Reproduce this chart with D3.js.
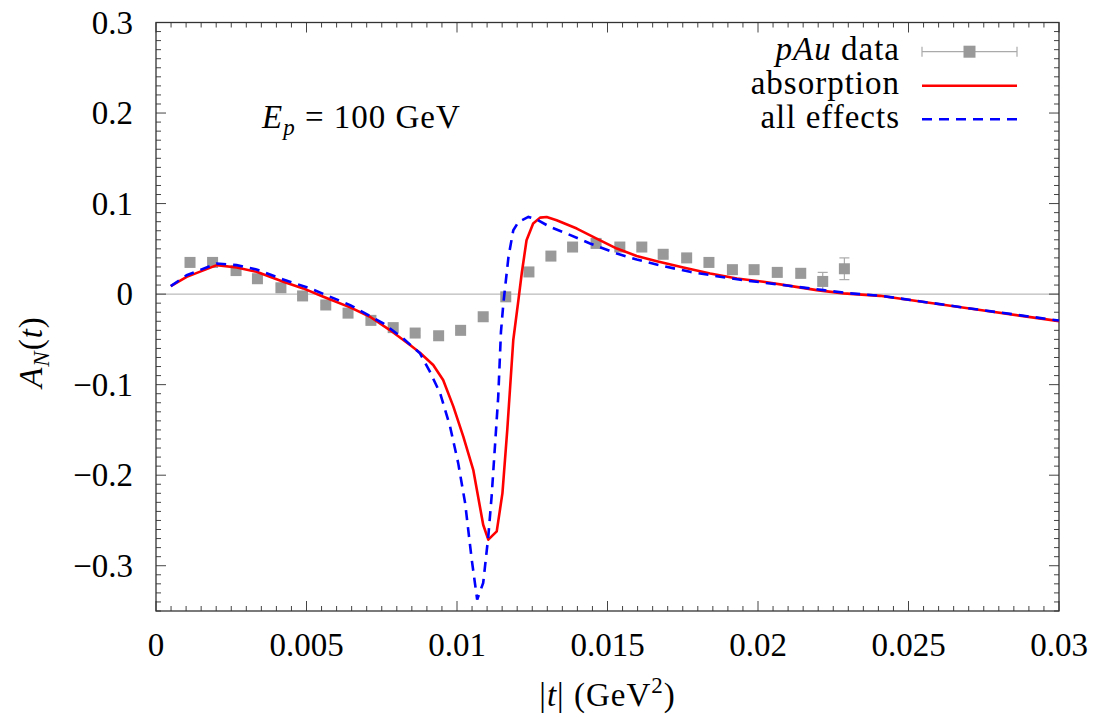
<!DOCTYPE html>
<html>
<head>
<meta charset="utf-8">
<script src="https://cdn.jsdelivr.net/npm/d3@7"></script>
<style>
  body { margin: 0; background: #fff; }
  svg { display: block; font-family: "Liberation Serif", "Times New Roman", serif; }
  .tick-label { font-size: 33px; fill: #000; }
  .word { font-size: 33px; letter-spacing: 1px; }
</style>
</head>
<body>
<div id="chart"></div>
<script>
// A_N(t) pour pAu à E_p = 100 GeV

// points expérimentaux pAu
const tData = [0.00113, 0.00188, 0.00266, 0.00337, 0.00415, 0.00487, 0.00564, 0.00638, 0.00714, 0.00788,
  0.00861, 0.00939, 0.01012, 0.01087, 0.01162, 0.01239, 0.01312, 0.01384, 0.01462, 0.01541,
  0.01614, 0.01685, 0.01763, 0.01837, 0.01915, 0.01987, 0.02064, 0.02142, 0.02215, 0.02287];
const aData = [0.035, 0.035, 0.026, 0.017, 0.007, -0.002, -0.012, -0.021, -0.029, -0.037,
  -0.043, -0.046, -0.040, -0.025, -0.003, 0.0245, 0.042, 0.052, 0.056, 0.052,
  0.052, 0.044, 0.040, 0.035, 0.027, 0.027, 0.024, 0.023, 0.014, 0.028];
const aErr = [0.003, 0.003, 0.003, 0.003, 0.003, 0.003, 0.003, 0.003, 0.003, 0.003,
  0.003, 0.003, 0.003, 0.003, 0.003, 0.003, 0.003, 0.003, 0.003, 0.003,
  0.003, 0.003, 0.003, 0.003, 0.004, 0.004, 0.004, 0.005, 0.010, 0.012];

// courbe "absorption"
const tAbs = [0.00049, 0.00102, 0.00202, 0.00268, 0.00334, 0.00423, 0.00489, 0.00556, 0.00645, 0.00711,
  0.00777, 0.00844, 0.00877, 0.00921, 0.00954, 0.00988, 0.01021, 0.01054, 0.01087, 0.01104,
  0.01132, 0.01151, 0.01167, 0.01187, 0.01204, 0.01215, 0.01231, 0.01253, 0.01276, 0.01298,
  0.01331, 0.01398, 0.01464, 0.01531, 0.01597, 0.01664, 0.01752, 0.01841, 0.01930, 0.02018,
  0.02106, 0.02195, 0.02284, 0.02405, 0.02738, 0.0300];
const aAbs = [0.0088, 0.019, 0.032, 0.0294, 0.0246, 0.0136, 0.0063, -0.0029, -0.0146, -0.0250,
  -0.0397, -0.0562, -0.0647, -0.0783, -0.0948, -0.1243, -0.1574, -0.1941, -0.2547, -0.2712,
  -0.2621, -0.2198, -0.150, -0.0507, -0.0066, 0.0228, 0.0595, 0.0779, 0.0845, 0.0852,
  0.0816, 0.0724, 0.0613, 0.0503, 0.0422, 0.0364, 0.0294, 0.0228, 0.0173, 0.0136,
  0.0091, 0.0044, 0.0008, -0.0019, -0.0176, -0.0298];

// courbe "all effects"
const tAll = [0.00049, 0.00102, 0.00202, 0.00268, 0.00334, 0.00423, 0.00512, 0.00645, 0.00755, 0.00821,
  0.00877, 0.00910, 0.00944, 0.00977, 0.01004, 0.01027, 0.01049, 0.01067, 0.01087, 0.01104,
  0.01115, 0.01126, 0.01137, 0.01146, 0.01154, 0.01171, 0.01187, 0.01204, 0.01237, 0.01265,
  0.01309, 0.01364, 0.01442, 0.01531, 0.01597, 0.01686, 0.01774, 0.01863, 0.01951, 0.02040,
  0.02128, 0.02217, 0.02306, 0.02405, 0.02738, 0.0300];
const aAll = [0.0088, 0.0209, 0.0338, 0.032, 0.0272, 0.0162, 0.0063, -0.0121, -0.0323, -0.0489,
  -0.0654, -0.0857, -0.1095, -0.1463, -0.1867, -0.2308, -0.2933, -0.3374, -0.319, -0.2676,
  -0.2235, -0.1684, -0.1132, -0.042, -0.0103, 0.0411, 0.0706, 0.0797, 0.0853, 0.0824,
  0.0742, 0.0669, 0.0559, 0.0449, 0.0382, 0.0309, 0.0246, 0.0198, 0.0154, 0.0118,
  0.0081, 0.0044, 0.0008, -0.0017, -0.0174, -0.0292];

const xTicks = [0, 0.005, 0.01, 0.015, 0.02, 0.025, 0.03];
const xTickLabels = ["0", "0.005", "0.01", "0.015", "0.02", "0.025", "0.03"];
const yTicks = [-0.3, -0.2, -0.1, 0, 0.1, 0.2, 0.3];
const yTickLabels = ["\u22120.3", "\u22120.2", "\u22120.1", "0", "0.1", "0.2", "0.3"];

const width = 1094;
const height = 719;
const margin = { left: 156, right: 35, top: 22.5, bottom: 108 };

const svg = d3.select("#chart").append("svg")
  .attr("width", width)
  .attr("height", height);

const x = d3.scaleLinear().domain([0, 0.03]).range([margin.left, width - margin.right]);
const y = d3.scaleLinear().domain([-0.35, 0.3]).range([height - margin.bottom, margin.top]);

const x0 = x.range()[0], x1 = x.range()[1];
const y0 = y.range()[0], y1 = y.range()[1];

// ligne zéro
svg.append("line")
  .attr("x1", x0).attr("x2", x1)
  .attr("y1", y(0)).attr("y2", y(0))
  .attr("stroke", "#aaa").attr("stroke-width", 1);

// graduations (majeures + mineures, sur les 4 côtés)
const tickCol = "#444";
const xMinor = d3.range(0, 0.03 + 1e-9, 0.0005);
const yMinor = d3.range(-0.35, 0.3 + 1e-9, 0.01);
const isMajor = (v, step) => Math.abs(v / step - Math.round(v / step)) < 1e-6;

const ticks = svg.append("g").attr("stroke", tickCol).attr("stroke-width", 1);
xMinor.forEach(v => {
  const len = isMajor(v, 0.005) ? 10 : 5;
  ticks.append("line").attr("x1", x(v)).attr("x2", x(v)).attr("y1", y0).attr("y2", y0 - len);
  ticks.append("line").attr("x1", x(v)).attr("x2", x(v)).attr("y1", y1).attr("y2", y1 + len);
});
yMinor.forEach(v => {
  const len = isMajor(v, 0.1) ? 10 : 5;
  ticks.append("line").attr("x1", x0).attr("x2", x0 + len).attr("y1", y(v)).attr("y2", y(v));
  ticks.append("line").attr("x1", x1).attr("x2", x1 - len).attr("y1", y(v)).attr("y2", y(v));
});

// cadre
svg.append("rect")
  .attr("x", x0).attr("y", y1)
  .attr("width", x1 - x0).attr("height", y0 - y1)
  .attr("fill", "none").attr("stroke", "#333").attr("stroke-width", 1.3);

// libellés des graduations
svg.append("g").selectAll("text")
  .data(xTicks)
  .join("text")
  .attr("class", "tick-label")
  .attr("x", d => x(d))
  .attr("y", 656)
  .attr("text-anchor", "middle")
  .text((d, i) => xTickLabels[i]);

svg.append("g").selectAll("text")
  .data(yTicks)
  .join("text")
  .attr("class", "tick-label")
  .attr("x", 133)
  .attr("y", d => y(d) + 11)
  .attr("text-anchor", "end")
  .text((d, i) => yTickLabels[i]);

// titres des axes
const xt = svg.append("text")
  .attr("class", "word")
  .attr("x", (x0 + x1) / 2).attr("y", 706)
  .attr("text-anchor", "middle");
xt.append("tspan").text("|");
xt.append("tspan").style("font-style", "italic").text("t");
xt.append("tspan").text("|  (GeV");
xt.append("tspan").attr("dy", -13).style("font-size", "23px").text("2");
xt.append("tspan").attr("dy", 13).text(")");

const yt = svg.append("text")
  .attr("class", "word")
  .attr("transform", "translate(42,352) rotate(-90)")
  .attr("text-anchor", "middle");
yt.append("tspan").style("font-style", "italic").text("A");
yt.append("tspan").attr("dy", 7).style("font-size", "23px").style("font-style", "italic").text("N");
yt.append("tspan").attr("dy", -7).text("(");
yt.append("tspan").style("font-style", "italic").text("t");
yt.append("tspan").text(")");

// annotation énergie
const ann = svg.append("text")
  .attr("class", "word")
  .attr("x", 262).attr("y", 128);
ann.append("tspan").style("font-style", "italic").text("E");
ann.append("tspan").attr("dy", 7).style("font-size", "23px").style("font-style", "italic").text("p");
ann.append("tspan").attr("dy", -7).text(" = 100 GeV");

// courbes
const line = d3.line()
  .x(d => x(d[0]))
  .y(d => y(d[1]));

const plot = svg.append("g");

// points de données avec barres d'erreur
const pts = tData.map((t, i) => [t, aData[i], aErr[i]]);
const errG = plot.append("g").attr("stroke", "#aaa").attr("stroke-width", 1.2);
pts.forEach(d => {
  errG.append("line").attr("x1", x(d[0])).attr("x2", x(d[0]))
    .attr("y1", y(d[1] - d[2])).attr("y2", y(d[1] + d[2]));
  errG.append("line").attr("x1", x(d[0]) - 5).attr("x2", x(d[0]) + 5)
    .attr("y1", y(d[1] - d[2])).attr("y2", y(d[1] - d[2]));
  errG.append("line").attr("x1", x(d[0]) - 5).attr("x2", x(d[0]) + 5)
    .attr("y1", y(d[1] + d[2])).attr("y2", y(d[1] + d[2]));
});
plot.append("g").selectAll("rect")
  .data(pts)
  .join("rect")
  .attr("x", d => x(d[0]) - 5.5)
  .attr("y", d => y(d[1]) - 5.5)
  .attr("width", 11).attr("height", 11)
  .attr("fill", "#999");

plot.append("path")
  .datum(tAbs.map((t, i) => [t, aAbs[i]]))
  .attr("d", line)
  .attr("fill", "none")
  .attr("stroke", "#ff0000")
  .attr("stroke-width", 2.6)
  .attr("stroke-linejoin", "round");

plot.append("path")
  .datum(tAll.map((t, i) => [t, aAll[i]]))
  .attr("d", line)
  .attr("fill", "none")
  .attr("stroke", "#0000ff")
  .attr("stroke-width", 2.6)
  .attr("stroke-dasharray", "10,7");

// légende
const legend = svg.append("g");
const legX1 = 922, legX2 = 1017, legTextX = 900;

const l1 = legend.append("text").attr("class", "word").attr("x", legTextX).attr("y", 59.5)
  .attr("text-anchor", "end");
l1.append("tspan").style("font-style", "italic").text("pAu");
l1.append("tspan").text(" data");
legend.append("line").attr("x1", legX1).attr("x2", legX2).attr("y1", 51.7).attr("y2", 51.7)
  .attr("stroke", "#aaa").attr("stroke-width", 1.2);
[legX1, legX2].forEach(xx => legend.append("line")
  .attr("x1", xx).attr("x2", xx).attr("y1", 46.7).attr("y2", 56.7)
  .attr("stroke", "#aaa").attr("stroke-width", 1.2));
legend.append("rect").attr("x", 969.5 - 6).attr("y", 51.7 - 6)
  .attr("width", 12).attr("height", 12).attr("fill", "#999");

legend.append("text").attr("class", "word").attr("x", legTextX).attr("y", 93.5)
  .attr("text-anchor", "end").text("absorption");
legend.append("line").attr("x1", legX1).attr("x2", legX2).attr("y1", 85.7).attr("y2", 85.7)
  .attr("stroke", "#ff0000").attr("stroke-width", 2.6);

legend.append("text").attr("class", "word").attr("x", legTextX).attr("y", 127.7)
  .attr("text-anchor", "end").text("all effects");
legend.append("line").attr("x1", legX1).attr("x2", legX2).attr("y1", 119.3).attr("y2", 119.3)
  .attr("stroke", "#0000ff").attr("stroke-width", 2.6)
  .attr("stroke-dasharray", "10,7");
</script>
</body>
</html>
